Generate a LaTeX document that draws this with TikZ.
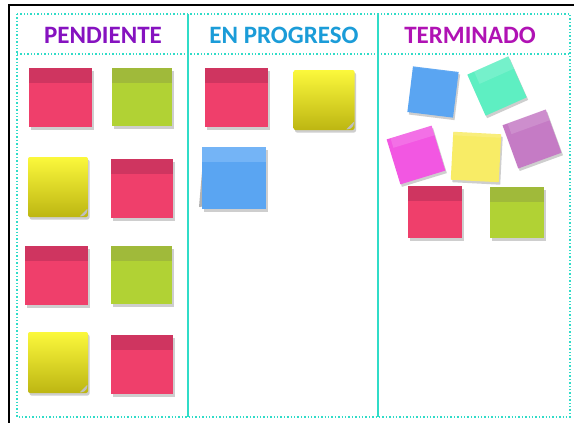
\documentclass[tikz,border=0pt]{standalone}
\usepackage{fontspec}
\setmainfont{Carlito}
\usetikzlibrary{shadows}
\definecolor{frameteal}{HTML}{30DCC8}
\definecolor{nred}{HTML}{EF3F6B}
\definecolor{nredband}{HTML}{CF3560}
\definecolor{ngreen}{HTML}{B1D234}
\definecolor{ngreenband}{HTML}{A0BA3A}
\definecolor{nyeltop}{HTML}{FBF83C}
\definecolor{nyelbot}{HTML}{BDB612}
\definecolor{nblue}{HTML}{5AA5F2}
\definecolor{nblueband}{HTML}{74B4F6}
\definecolor{nteal}{HTML}{5EEFC2}
\definecolor{nmagenta}{HTML}{F257E2}
\definecolor{nlyellow}{HTML}{F8EC66}
\definecolor{npurple}{HTML}{C57BC5}
\definecolor{tpend}{HTML}{8612C0}
\definecolor{tprog}{HTML}{1B9CD8}
\definecolor{tterm}{HTML}{B012B4}
\begin{document}
\begin{tikzpicture}[x=1pt,y=-1pt,
  title/.style={font=\fontsize{25}{27}\selectfont\bfseries},
  note/.style={inner sep=0pt, minimum width=#1, minimum height=#1,
    drop shadow={shadow xshift=1.5pt, shadow yshift=-2.5pt, opacity=0.35, fill=black!55}},
  note/.default=60pt,
  bandnote/.style 2 args={fill=#1, path picture={\fill[#2]
    (path picture bounding box.north west) rectangle
    ([yshift=-15pt]path picture bounding box.north east);}},
  rednote/.style={bandnote={nred}{nredband}},
  greennote/.style={bandnote={ngreen}{ngreenband}},
  yellownote/.style={top color=nyeltop, bottom color=nyelbot, rounded corners=2pt,
    path picture={\fill[black!25]
    ([xshift=-9pt]path picture bounding box.south east) --
    ([yshift=9pt]path picture bounding box.south east) --
    ([xshift=-2pt,yshift=2pt]path picture bounding box.south east) -- cycle;}},
  bluenote/.style={bandnote={nblue}{nblueband}},
  flatnote/.style={fill=#1, path picture={\fill[white, opacity=0.15]
    (path picture bounding box.north west) rectangle
    ([yshift=-6pt]path picture bounding box.north east);}},
  divider/.style={frameteal, line width=1.6pt},
  dotline/.style={frameteal, dotted, line width=1.4pt}
]
\useasboundingbox (0,0) rectangle (574,423);
\fill[white] (0,0) rectangle (574,423);
% black frame
\coordinate (ftl) at (9,5);
\coordinate (ftr) at (574,5);
\coordinate (fbl) at (9,423);
\draw[black, line width=1.8pt] (ftr) -- (ftl) -- (fbl);
% board
\coordinate (btl) at (17,14);
\coordinate (bbr) at (570,417);
\draw[dotline] (btl) rectangle (bbr);
\coordinate (hl) at (17,54);
\coordinate (hr) at (570,54);
\draw[dotline] (hl) -- (hr);
\coordinate (d1t) at (188,14);
\coordinate (d1b) at (188,417);
\coordinate (d2t) at (378,14);
\coordinate (d2b) at (378,417);
\draw[divider] (d1t) -- (d1b);
\draw[divider] (d2t) -- (d2b);
% titles
\node[title, text=tpend] (tpendiente) at (103,35) {PENDIENTE};
\node[title, text=tprog] (tprogreso) at (284,35) {EN PROGRESO};
\node[title, text=tterm] (tterminado) at (470,35) {TERMINADO};
% column 1
\node[note, rednote, minimum width=63pt, minimum height=59pt] (p1) at (60.5,97.5) {};
\node[note, greennote, minimum width=60pt, minimum height=58pt] (p2) at (142,97) {};
\node[note, yellownote] (p3) at (58,187) {};
\node[note, rednote, minimum width=62pt, minimum height=59pt] (p4) at (142,188.5) {};
\node[note, rednote, minimum width=63pt, minimum height=59pt] (p5) at (56.5,275.5) {};
\node[note, greennote, minimum width=61pt, minimum height=58pt] (p6) at (141.5,275) {};
\node[note, yellownote, minimum height=61pt] (p7) at (58,362.5) {};
\node[note, rednote, minimum width=62pt, minimum height=59pt] (p8) at (142,364.5) {};
% column 2
\node[note, rednote, minimum width=63pt, minimum height=59pt] (g1) at (236.5,97.5) {};
\node[note, yellownote, minimum width=61pt] (g2) at (324,100) {};
\fill[black!30] (199,207) -- (203,160) -- (215,205) -- cycle;
\node[note, bluenote, minimum width=64pt, minimum height=62pt] (g3) at (234,178) {};
% column 3
\node[note=46pt, flatnote=nblue, rotate=-7] (t1) at (433,92) {};
\node[note=45pt, flatnote=nteal, rotate=24] (t2) at (497,86) {};
\node[note=47pt, flatnote=nmagenta, rotate=17] (t3) at (416,155) {};
\node[note=48pt, flatnote=nlyellow, rotate=-3] (t4) at (476,157) {};
\node[note=46pt, flatnote=npurple, rotate=20] (t5) at (532,139) {};
\node[note, rednote, minimum width=54pt, minimum height=52pt] (t6) at (435,212) {};
\node[note, greennote, minimum width=54pt, minimum height=51pt] (t7) at (517,212.5) {};
\end{tikzpicture}
\end{document}
